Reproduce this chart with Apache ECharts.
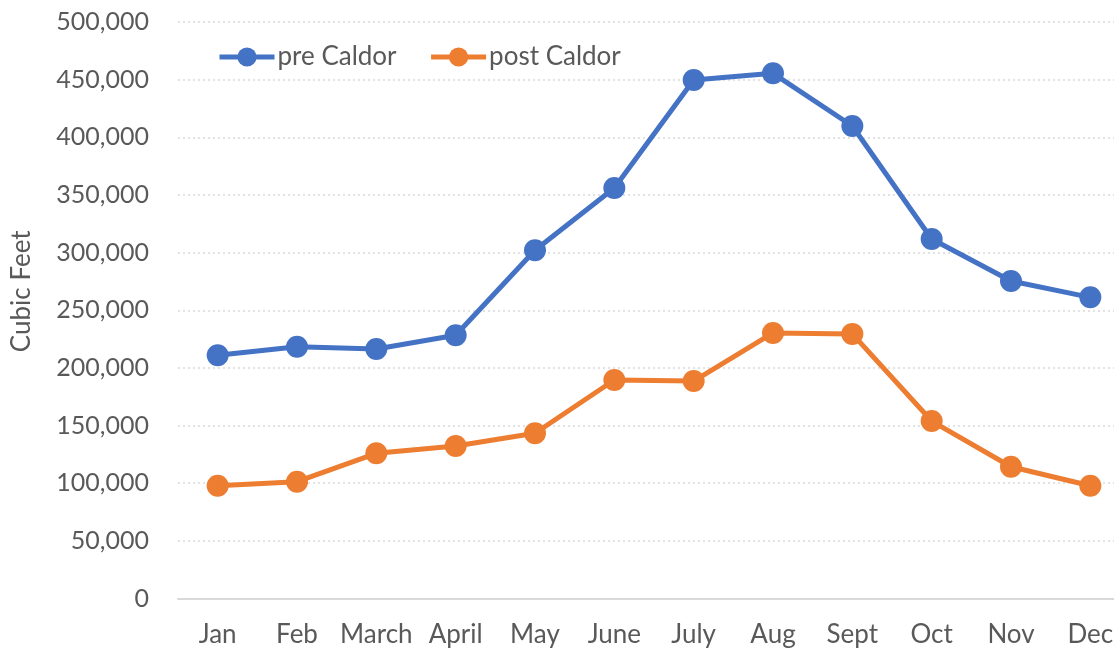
<!DOCTYPE html>
<html>
<head>
<meta charset="utf-8">
<script src="https://cdn.jsdelivr.net/npm/echarts@6/dist/echarts.min.js"></script>
<style>
  html, body { margin: 0; padding: 0; background: #fff; overflow: hidden; }
  /* chart is wider than the window: the last category is cut off on the right, like the original */
  #main { width: 1130px; height: 650px; }
</style>
</head>
<body>
<div id="main"></div>
<script>
  // chart data
  var months = ['Jan', 'Feb', 'March', 'April', 'May', 'June', 'July', 'Aug', 'Sept', 'Oct', 'Nov', 'Dec'];
  var preCaldor = [211000, 218400, 216400, 228300, 302000, 356000, 449700, 455500, 409800, 311800, 275400, 261200];
  var postCaldor = [97800, 101300, 125900, 132300, 143300, 189500, 188600, 230300, 229500, 153900, 114300, 97800];

  var font = 'Lato, "Liberation Sans", sans-serif';
  var chart = echarts.init(document.getElementById('main'));

  chart.setOption({
    animation: false,
    textStyle: {fontFamily: font},
    legend: {
      left: 217,
      top: 44,
      padding: 0,
      itemWidth: 55,
      itemHeight: 24,
      itemGap: 32,
      lineStyle: {width: 5},
      textStyle: {fontSize: 26, color: '#595959', fontFamily: font, padding: [0, 0, 0, -2]},
      data: ['pre Caldor', 'post Caldor']
    },
    grid: {
      left: 178,
      top: 22,
      right: 0,
      height: 576.5
    },
    xAxis: {
      type: 'category',
      data: months,
      boundaryGap: true,
      axisLine: {lineStyle: {color: '#d9d9d9', width: 2}},
      axisTick: {show: false},
      axisLabel: {
        interval: 0,
        color: '#595959',
        fontSize: 26,
        fontFamily: font,
        margin: 23
      }
    },
    yAxis: {
      type: 'value',
      min: 0,
      max: 500000,
      interval: 50000,
      name: 'Cubic Feet',
      nameLocation: 'middle',
      nameGap: 143,
      nameTextStyle: {fontSize: 26, color: '#595959', fontFamily: font, padding: [0, 0, 0, 38]},
      axisLine: {show: false},
      axisTick: {show: false},
      splitLine: {lineStyle: {color: '#d9d9d9', type: [2, 3], width: 1.5}},
      axisLabel: {
        color: '#595959',
        fontSize: 25,
        fontFamily: font,
        margin: 29,
        formatter: function (v) {
          return v.toLocaleString('en-US');
        }
      }
    },
    series: [
      {
        name: 'pre Caldor',
        type: 'line',
        data: preCaldor,
        symbol: 'circle',
        symbolSize: 22,
        color: '#4472C4',
        lineStyle: {width: 5, color: '#4472C4'}
      },
      {
        name: 'post Caldor',
        type: 'line',
        data: postCaldor,
        symbol: 'circle',
        symbolSize: 22,
        color: '#ED7D31',
        lineStyle: {width: 5, color: '#ED7D31'}
      }
    ]
  });
</script>
</body>
</html>
